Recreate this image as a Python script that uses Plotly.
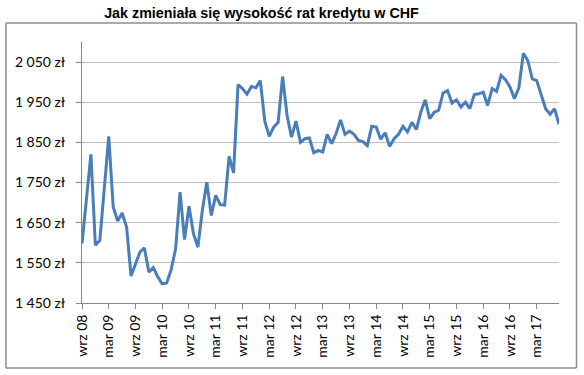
import plotly.graph_objects as go

title_text = "Jak zmieniała się wysokość rat kredytu w CHF"

# monthly values, wrz 2008 .. sie 2017
months_idx = list(range(108))
rates = [
    1598, 1710, 1820, 1594, 1606, 1735, 1865, 1689, 1654, 1674,
    1639, 1517, 1548, 1577, 1587, 1527, 1538, 1515, 1498, 1500,
    1533, 1585, 1726, 1608, 1691, 1623, 1589, 1681, 1751, 1668,
    1718, 1695, 1694, 1815, 1774, 1994, 1984, 1970, 1989, 1986,
    2004, 1903, 1865, 1888, 1900, 2014, 1917, 1863, 1903, 1850,
    1859, 1861, 1824, 1830, 1826, 1870, 1847, 1872, 1906, 1870,
    1878, 1870, 1855, 1852, 1842, 1890, 1888, 1858, 1874, 1840,
    1859, 1870, 1890, 1876, 1900, 1882, 1925, 1956, 1909, 1925,
    1930, 1973, 1979, 1948, 1956, 1938, 1950, 1934, 1969, 1971,
    1975, 1942, 1984, 1977, 2017, 2006, 1988, 1959, 1986, 2072,
    2054, 2008, 2004, 1971, 1934, 1920, 1934, 1895,
]

x_tick_pos = [0, 6, 12, 18, 24, 30, 36, 42, 48, 54, 60, 66, 72, 78, 84, 90, 96, 102]
x_tick_labels = ["wrz 08", "mar 09", "wrz 09", "mar 10", "wrz 10", "mar 11",
                 "wrz 11", "mar 12", "wrz 12", "mar 13", "wrz 13", "mar 14",
                 "wrz 14", "mar 15", "wrz 15", "mar 16", "wrz 16", "mar 17"]

y_tick_vals = [1450, 1550, 1650, 1750, 1850, 1950, 2050]
y_tick_labels = ["1 450 zł", "1 550 zł", "1 650 zł", "1 750 zł", "1 850 zł", "1 950 zł", "2 050 zł"]

W, H = 584, 375
L, R, T, B = 82, 25, 42, 72
pw = W - L - R
ph = H - T - B

def px_x(px):
    return (px - L) / pw

def px_y(py):
    return (H - B - py) / ph

fig = go.Figure()
fig.add_trace(go.Scatter(
    x=months_idx, y=rates, mode="lines",
    line=dict(color="#4A7EBB", width=3),
    hoverinfo="skip",
))

tick_font = dict(family="Lato, Carlito, Calibri, sans-serif", size=14, color="#000000")

frame = dict(color="#8C8C8C", width=1.5)

fig.update_layout(
    template="none",
    width=W, height=H,
    margin=dict(l=L, r=R, t=T, b=B, pad=0),
    paper_bgcolor="white", plot_bgcolor="white",
    showlegend=False,
    title=dict(text="<b>" + title_text + "</b>",
               font=dict(family="Liberation Sans, Arial, sans-serif", size=14.3, color="#000000"),
               x=px_x(261.5), xref="paper", xanchor="center",
               y=1 - 12.5 / H, yref="container", yanchor="middle"),
    xaxis=dict(
        range=[0, 107], tickmode="array", tickvals=x_tick_pos, ticktext=x_tick_labels,
        tickangle=-90, ticks="outside", ticklen=5, tickcolor="#868686", tickwidth=1,
        showline=True, linecolor="#868686", linewidth=1,
        showgrid=False, zeroline=False, tickfont=tick_font, ticklabelstandoff=0,
        automargin=False,
    ),
    yaxis=dict(
        range=[1450, 2100], tickmode="array", tickvals=y_tick_vals, ticktext=y_tick_labels,
        ticks="outside", ticklen=5, tickcolor="#868686", tickwidth=1,
        showline=True, linecolor="#868686", linewidth=1,
        showgrid=True, gridcolor="#BFBFBF", gridwidth=1,
        zeroline=False, tickfont=tick_font, ticklabelstandoff=8,
        automargin=False,
    ),
    shapes=[
        dict(type="line", xref="paper", yref="paper", x0=px_x(6), x1=px_x(576.5),
             y0=px_y(23), y1=px_y(23), line=frame, layer="above"),
        dict(type="line", xref="paper", yref="paper", x0=px_x(6), x1=px_x(576.5),
             y0=px_y(368), y1=px_y(368), line=frame, layer="above"),
        dict(type="line", xref="paper", yref="paper", x0=px_x(6), x1=px_x(6),
             y0=px_y(23), y1=px_y(368), line=frame, layer="above"),
        dict(type="line", xref="paper", yref="paper", x0=px_x(576.5), x1=px_x(576.5),
             y0=px_y(23), y1=px_y(368), line=frame, layer="above"),
    ],
)

fig.write_html("out.html", config={"displayModeBar": False},
               post_script="document.body.style.margin='0px';document.body.style.overflow='hidden';")
